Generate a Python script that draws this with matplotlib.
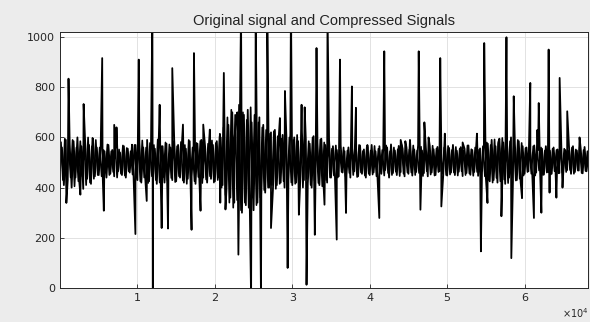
import numpy as np
import matplotlib
matplotlib.use('Agg')
import matplotlib.pyplot as plt

# background noise band of the original signal, one value every 250 samples
band_step = 250
band = [
    470, 560, 410, 590, 430, 575, 400, 585, 440, 600, 420, 565, 395, 580, 435, 570, 415, 595, 445, 560,
    450, 555, 460, 545, 440, 570, 455, 550, 445, 560, 465, 540, 450, 565, 440, 555, 460, 548, 445, 570,
    430, 580, 420, 560, 445, 590, 425, 570, 440, 555, 415, 585, 435, 565, 420, 575, 445, 560, 430, 590,
    425, 570, 440, 580, 420, 555, 435, 585, 445, 565, 415, 575, 430, 590, 440, 560, 420, 580, 435, 570,
    425, 585, 440, 600, 410, 620, 390, 650, 360, 700, 340, 680, 320, 720, 300, 690, 330, 710, 350, 660,
    310, 700, 340, 680, 370, 650, 380, 640, 400, 620, 390, 630, 410, 600, 420, 610, 400, 590, 430, 615,
    410, 600, 420, 585, 405, 620, 430, 590, 415, 575, 400, 605, 425, 580, 410, 595, 435, 570, 420, 590,
    440, 565, 455, 550, 445, 570, 460, 545, 450, 560, 440, 555, 465, 548, 445, 568, 455, 552, 440, 560,
    450, 570, 460, 545, 445, 565, 455, 550, 470, 560, 440, 572, 458, 548, 450, 566, 462, 555, 445, 560,
    455, 565, 448, 552, 462, 570, 450, 548, 458, 560, 445, 568, 460, 553, 450, 562, 465, 549, 452, 566,
    448, 558, 460, 570, 450, 547, 463, 561, 446, 555, 458, 568, 451, 550, 462, 564, 447, 556, 460, 572,
    440, 575, 425, 590, 430, 565, 420, 595, 435, 580, 415, 570, 440, 600, 425, 575, 430, 585, 420, 565,
    455, 560, 465, 545, 450, 568, 460, 550, 470, 555, 452, 565, 462, 548, 455, 560, 468, 552, 458, 563,
    460, 550, 470, 558, 455, 565, 462, 548, 468, 556, 457, 562, 465, 530,
]

# background band of the compressed signal, sampled half-way between the original's samples
band2 = [
    580, 430, 595, 415, 570, 440, 590, 405, 560, 425, 585, 445, 575, 410, 600, 420, 565, 435, 590, 450,
    560, 445, 550, 460, 572, 450, 545, 462, 565, 440, 552, 455, 568, 448, 558, 465, 545, 452, 570, 440,
    575, 425, 588, 440, 560, 418, 578, 445, 570, 430, 592, 420, 565, 442, 580, 428, 572, 438, 585, 422,
    565, 445, 582, 428, 570, 415, 590, 438, 560, 425, 578, 442, 586, 418, 568, 432, 575, 445, 588, 420,
    578, 430, 605, 400, 640, 370, 680, 340, 710, 320, 690, 350, 730, 310, 700, 340, 670, 320, 720, 360,
    690, 330, 660, 360, 640, 390, 630, 400, 615, 410, 625, 395, 605, 415, 595, 425, 610, 405, 600, 420,
    590, 415, 610, 425, 580, 400, 598, 435, 585, 410, 600, 428, 575, 418, 592, 405, 580, 430, 596, 440,
    555, 448, 568, 440, 550, 462, 560, 445, 548, 458, 565, 450, 552, 442, 570, 460, 546, 448, 562, 455,
    548, 452, 566, 445, 555, 465, 550, 448, 568, 458, 545, 450, 560, 463, 553, 446, 570, 455, 549, 460,
    552, 460, 568, 450, 548, 458, 563, 446, 555, 465, 550, 452, 567, 448, 556, 462, 545, 455, 560, 450,
    566, 452, 550, 460, 562, 448, 555, 465, 548, 450, 568, 456, 553, 447, 560, 462, 551, 450, 565, 445,
    580, 430, 570, 420, 592, 438, 575, 425, 598, 432, 568, 418, 585, 440, 572, 428, 590, 435, 578, 448,
    558, 462, 550, 455, 565, 448, 553, 468, 560, 450, 548, 460, 566, 452, 555, 465, 550, 457, 562, 460,
    555, 462, 548, 470, 560, 455, 552, 468, 563, 458, 550, 466, 545, 470,
]

# spikes (sample index, amplitude)
spike_pos = [
    820, 1100, 2630, 3050, 4200, 5450, 5660, 7000, 7300, 9300, 9740, 10170, 11200,
    11930, 11990, 12870, 13130, 13950, 14500, 15880, 16990, 17300, 18150, 18500,
    19350, 20650, 20700, 21160, 21370, 22520, 22900,
    23040, 23380, 24680, 25270, 25960, 26770, 27250, 28400, 29050, 29400, 29820,
    30850, 31200, 31600, 31840, 32910, 33130,
    34160, 34550, 35740, 36160, 36940, 37700, 38220, 39700, 41240, 41880,
    44000, 44600, 45200,
    46330, 46550, 47060, 47600, 49110, 49250, 49700, 52000, 53850, 54360, 54790,
    55210, 56600,
    57010, 57660, 58290, 58600, 59670, 60740, 61210, 61660, 61830, 62170, 63110,
    63230, 64110, 64530, 64900, 65510, 67100,
]
spike_val = [
    339, 834, 372, 733, 598, 916, 308, 650, 640, 571, 215, 910, 347,
    1100, -40, 730, 239, 237, 876, 651, 232, 936, 308, 651,
    631, 614, 340, 857, 313, 585, 700,
    133, 1100, -40, 1100, -40, 1100, 239, 677, 785, 80, 1100,
    292, 730, 720, 13, 212, 956,
    332, 1100, 193, 910, 299, 803, 718, 570, 279, 943,
    590, 585, 590,
    943, 312, 660, 600, 916, 325, 615, 580, 615, 146, 976,
    339, 580,
    286, 999, 119, 764, 358, 817, 279, 630, 737, 300, 950,
    380, 360, 837, 400, 704, 600,
]

x_ticks = [10000, 20000, 30000, 40000, 50000, 60000]
x_ticklabels = ['1', '2', '3', '4', '5', '6']
y_ticks = [0, 200, 400, 600, 800, 1000]

# original: background band merged with the spikes
pos = np.concatenate([np.arange(len(band)) * band_step, spike_pos])
val = np.concatenate([band, spike_val])
order = np.argsort(pos, kind='stable')
pos, val = pos[order], val[order]

pos2 = np.arange(len(band2)) * band_step + band_step / 2

fig = plt.figure(figsize=(5.9, 3.22), dpi=100, facecolor='#ececec')
ax = fig.add_axes([0.1017, 0.1056, 0.895, 0.795])
ax.set_facecolor('white')

ax.plot(pos2, band2, color='black', linewidth=1.2)
ax.plot(pos, val, color='black', linewidth=1.3)

ax.set_xlim(0, 68200)
ax.set_ylim(0, 1020)
ax.set_xticks(x_ticks)
ax.set_xticklabels(x_ticklabels)
ax.set_yticks(y_ticks)
ax.grid(True, color='#dddddd', linewidth=0.6)
ax.set_axisbelow(True)
ax.tick_params(direction='in', length=3, labelsize=8, colors='#262626', width=0.6)
for s in ax.spines.values():
    s.set_color('#262626')
    s.set_linewidth(0.7)

ax.set_title('Original signal and Compressed Signals', fontsize=10.5,
             family='Liberation Sans', color='#222222', pad=5)
fig.text(0.998, 0.005, r'$\times10^4$', fontsize=7, color='#262626', ha='right', va='bottom')

fig.savefig('out.png', dpi=100, facecolor=fig.get_facecolor())
